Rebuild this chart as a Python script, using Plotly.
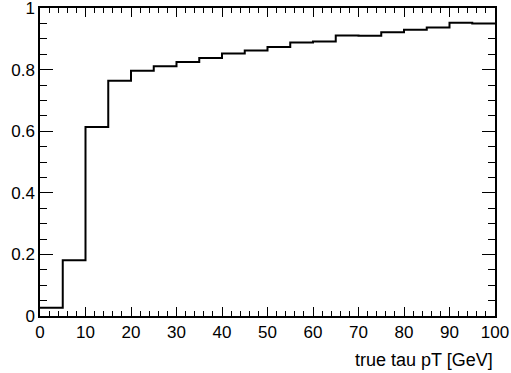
import plotly.graph_objects as go

bin_edges = [0, 5, 10, 15, 20, 25, 30, 35, 40, 45, 50, 55, 60, 65, 70, 75, 80, 85, 90, 95, 100]
efficiency = [0.027, 0.181, 0.614, 0.764, 0.796, 0.811, 0.825, 0.838, 0.852, 0.862,
              0.873, 0.888, 0.891, 0.911, 0.910, 0.921, 0.929, 0.937, 0.952, 0.950]
x_title = "true tau pT [GeV]"

xs = list(bin_edges)
ys = list(efficiency) + [efficiency[-1]]

fig = go.Figure()
fig.add_trace(go.Scatter(x=xs, y=ys, mode="lines", line=dict(shape="hv", color="black", width=2),
                         hoverinfo="skip", showlegend=False))

font = dict(family="Liberation Sans, Arial, Helvetica, sans-serif", size=17, color="black")
title_font = dict(family="Liberation Sans, Arial, Helvetica, sans-serif", size=18, color="black")
axis_common = dict(showgrid=False, zeroline=False, showline=True, linecolor="black", linewidth=1.5,
                   mirror="allticks", ticks="inside", tickcolor="black", tickwidth=1,
                   tickfont=font, automargin=False, ticklabeloverflow="allow")
fig.update_xaxes(range=[0, 100], dtick=10, tick0=0, ticklen=9, ticklabelstandoff=0,
                 minor=dict(ticks="inside", dtick=2, ticklen=5, tickcolor="black"),
                 **axis_common)
fig.update_yaxes(range=[0, 1], dtick=0.2, tick0=0, ticklen=13, tickformat="~g",
                 minor=dict(ticks="inside", dtick=0.05, ticklen=7, tickcolor="black"),
                 **axis_common)

fig.add_annotation(text=x_title, xref="paper", yref="paper", x=1.0, y=-0.143,
                   xanchor="right", yanchor="middle", showarrow=False, font=title_font)

fig.update_layout(width=511, height=373, margin=dict(l=40, r=16, t=8, b=57),
                  plot_bgcolor="white", paper_bgcolor="white", font=font)
fig.write_html("out.html")
